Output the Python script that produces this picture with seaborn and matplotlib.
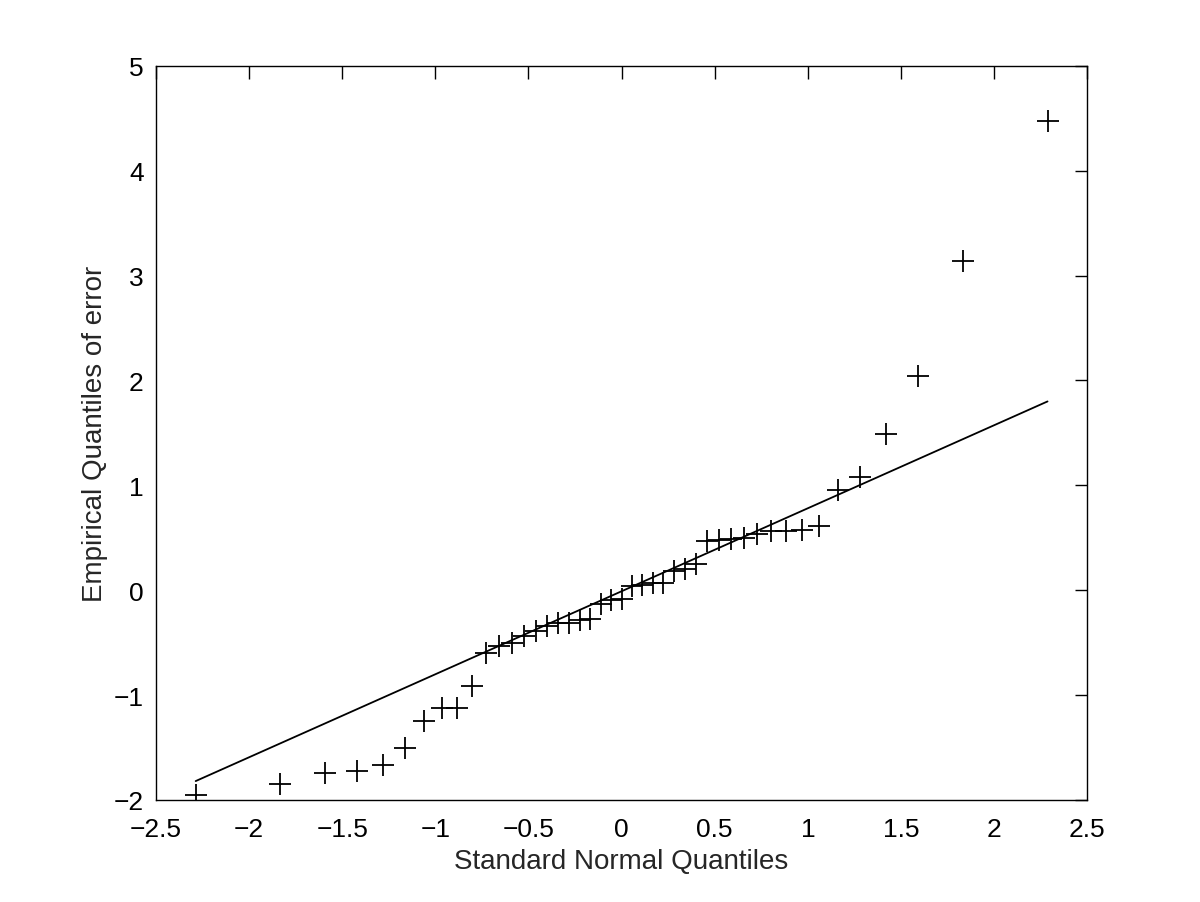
import matplotlib
matplotlib.use('Agg')
import matplotlib.pyplot as plt
import seaborn as sns
import pandas as pd

# normal quantiles (x) and sorted error values (y)
std_normal_q = [-2.287, -1.834, -1.593, -1.420, -1.282, -1.164, -1.060, -0.967, -0.882,
                -0.803, -0.728, -0.657, -0.589, -0.524, -0.461, -0.400, -0.341, -0.282,
                -0.224, -0.168, -0.112, -0.056, 0.0, 0.056, 0.112, 0.168, 0.224, 0.282,
                0.341, 0.400, 0.461, 0.524, 0.589, 0.657, 0.728, 0.803, 0.882, 0.967,
                1.060, 1.164, 1.282, 1.420, 1.593, 1.834, 2.287]
error_q = [-1.95, -1.85, -1.74, -1.72, -1.67, -1.50, -1.25, -1.12, -1.12, -0.91,
           -0.60, -0.53, -0.50, -0.44, -0.39, -0.34, -0.31, -0.31, -0.28, -0.27,
           -0.13, -0.09, -0.08, 0.04, 0.05, 0.07, 0.07, 0.18, 0.20, 0.25,
           0.47, 0.48, 0.49, 0.50, 0.54, 0.56, 0.56, 0.57, 0.61, 0.96,
           1.08, 1.49, 2.04, 3.14, 4.47]
# reference line endpoints
line_x = [-2.287, 2.287]
line_y = [-1.82, 1.80]

pts = pd.DataFrame({'x': std_normal_q, 'y': error_q})
ref = pd.DataFrame({'x': line_x, 'y': line_y})

sns.set_style('white')
plt.rcParams['font.family'] = ['Liberation Sans', 'DejaVu Sans']
plt.rcParams['axes.unicode_minus'] = True

fig = plt.figure(figsize=(12, 9.03), dpi=100)
ax = fig.add_axes([0.13, 0.113, 0.776, 0.813])

sns.lineplot(x='x', y='y', data=ref, ax=ax, color='k', linewidth=1.3)
sns.scatterplot(x='x', y='y', data=pts, ax=ax, marker='+', s=260,
                color='k', linewidth=1.3, zorder=3)

ax.set_xlim(-2.5, 2.5)
ax.set_ylim(-2, 5)
ax.set_xticks([-2.5, -2, -1.5, -1, -0.5, 0, 0.5, 1, 1.5, 2, 2.5])
ax.set_xticklabels(['\u22122.5', '\u22122', '\u22121.5', '\u22121', '\u22120.5', '0',
                    '0.5', '1', '1.5', '2', '2.5'])
ax.set_yticks([-2, -1, 0, 1, 2, 3, 4, 5])
ax.set_yticklabels(['\u22122', '\u22121', '0', '1', '2', '3', '4', '5'])
ax.tick_params(direction='in', length=9, width=1, top=True, right=True,
               labelsize=19, colors='k')
ax.tick_params(axis='x', pad=12)
ax.tick_params(axis='y', pad=9)
for s in ax.spines.values():
    s.set_color('k')
    s.set_linewidth(1)
ax.set_xlabel('Standard Normal Quantiles', fontsize=20, labelpad=5)
ax.set_ylabel('Empirical Quantiles of error', fontsize=20, labelpad=4)

plt.savefig('out.png', dpi=100)
